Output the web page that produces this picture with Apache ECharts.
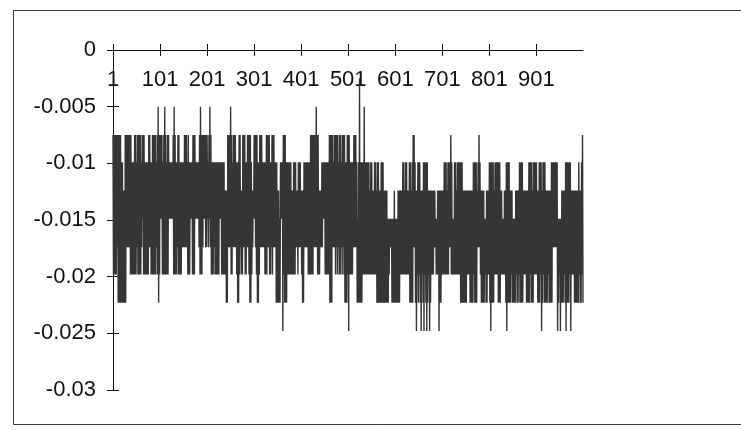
<!DOCTYPE html>
<html>
<head>
<meta charset="utf-8">
<script src="https://cdn.jsdelivr.net/npm/echarts@6/dist/echarts.min.js"></script>
<style>
html,body{margin:0;padding:0;background:#fff;}
#c{width:741px;height:431px;}
</style>
</head>
<body>
<div id="c"></div>
<script>
// Quantised levels (digit -> value)
const LEVELS = [-0.0025, -0.005, -0.0075, -0.0099, -0.0124, -0.0149, -0.0174, -0.0198, -0.0223, -0.0248];

// Upper value of each consecutive pair of points (points 1,3,5,...), as level digits
const HI = [
  "2222222223" + "3442222222" + "3332232222" + "3222333322" + "3322223212",
  "2223212322" + "3333212332" + "2333332223" + "2333322233" + "3321222222",
  "2321233333" + "3333333334" + "4422212322" + "2333224422" + "2332222344",
  "2222332223" + "3332222332" + "2233344533" + "3222333333" + "4433344333",
  "4443333333" + "2222221224" + "4433333333" + "2222322222" + "3223222332",
  "2233332223" + "5303333133" + "3334334433" + "4334433344" + "4455555554",
  "5554444433" + "4334433432" + "2344333444" + "3333344444" + "4445544444",
  "4433343332" + "3553343333" + "3344444444" + "4443333432" + "3444455444",
  "3333343333" + "3344554433" + "3344455544" + "4433334444" + "4433334333",
  "3443334333" + "4444443333" + "3335555444" + "4333333444" + "4444434432"
].join("");

// Lower value of each pair (points 2,4,6,...), as level digits
const LO = [
  "7777688888" + "8888666677" + "7777767777" + "6577777766" + "7777776787",
  "5577777775" + "5555777767" + "7776666667" + "7755777555" + "5677765566",
  "5656777677" + "7775577777" + "8866677666" + "6788767766" + "7766788765",
  "5678876666" + "6777667767" + "6668888855" + "9788877777" + "7777667666",
  "7886666777" + "7776666777" + "6665577777" + "8886667676" + "7767678887",
  "9777766668" + "8888877777" + "7777777777" + "8888888888" + "8887668888",
  "8888877777" + "7777788886" + "6897878978" + "9789879877" + "7667779887",
  "7777777667" + "7777777778" + "8888887778" + "8887888666" + "7888878877",
  "8988877778" + "8877777898" + "8887888878" + "8788887778" + "8887888777",
  "7888798788" + "8878888666" + "6698798887" + "8988879777" + "8888878878"
].join("");

const Y_MIN = -0.03, Y_MAX = 0, Y_STEP = 0.005;
const X_LABEL_EVERY = 100;

const values = [];
for (let k = 0; k < HI.length; k++) {
  values.push(LEVELS[+HI[k]]);
  values.push(LEVELS[+LO[k]]);
}
const categories = values.map((_, i) => String(i + 1));

const FONT = "'Liberation Sans', Arial, sans-serif";
const showEvery = (idx) => idx % X_LABEL_EVERY === 0;

const chart = echarts.init(document.getElementById('c'), null, {renderer: 'canvas'});
chart.setOption({
  animation: false,
  backgroundColor: '#ffffff',
  grid: {left: 113, top: 50, width: 470, height: 340, containLabel: false},
  graphic: [{
    type: 'polyline', z: -1, silent: true,
    shape: {points: [[760, 10.5], [13.5, 10.5], [13.5, 424.5], [760, 424.5]]},
    style: {fill: null, stroke: '#3a3a3a', lineWidth: 1}
  }],
  xAxis: [{
    type: 'category', data: categories, boundaryGap: false, position: 'top',
    axisLine: {show: true, onZero: false, lineStyle: {color: '#111', width: 1}},
    axisTick: {show: true, interval: showEvery, length: 6, lineStyle: {color: '#111'}},
    axisLabel: {show: true, inside: true, interval: showEvery, margin: 19, color: '#111', fontSize: 22, fontFamily: FONT},
    splitLine: {show: false}
  }, {
    type: 'category', data: categories, boundaryGap: false, position: 'top',
    axisLine: {show: false, onZero: false},
    axisTick: {show: true, inside: true, interval: showEvery, length: 6, lineStyle: {color: '#111'}},
    axisLabel: {show: false},
    splitLine: {show: false}
  }],
  yAxis: [{
    type: 'value', min: Y_MIN, max: Y_MAX, interval: Y_STEP, position: 'left',
    axisLine: {show: true, lineStyle: {color: '#111', width: 1}},
    axisTick: {show: true, length: 6, lineStyle: {color: '#111'}},
    axisLabel: {show: true, margin: 17, color: '#111', fontSize: 22, fontFamily: FONT},
    splitLine: {show: false}
  }, {
    type: 'value', min: Y_MIN, max: Y_MAX, interval: Y_STEP, position: 'left',
    axisLine: {show: false},
    axisTick: {show: true, inside: true, length: 6, lineStyle: {color: '#111'}},
    axisLabel: {show: false},
    splitLine: {show: false}
  }],
  series: [{
    type: 'line', xAxisIndex: 0, yAxisIndex: 0, data: values,
    symbol: 'none', silent: true, smooth: false,
    lineStyle: {width: 1.4, color: '#353535'}
  }]
});
</script>
</body>
</html>
